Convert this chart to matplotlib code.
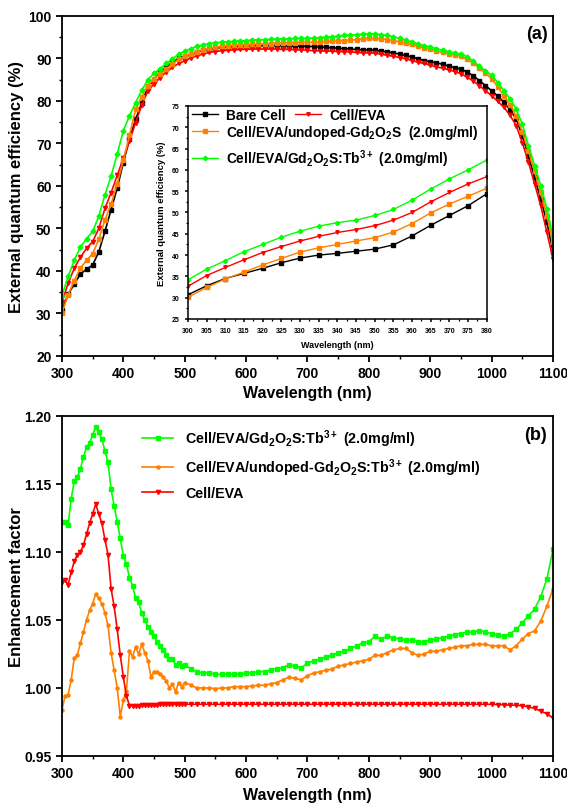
import matplotlib
matplotlib.use("Agg")
import matplotlib.pyplot as plt
from matplotlib.ticker import MultipleLocator, FormatStrFormatter
import numpy as np

plt.rcParams['font.family'] = ['Liberation Sans', 'DejaVu Sans']
plt.rcParams['font.weight'] = 'bold'
plt.rcParams['mathtext.fontset'] = 'custom'
plt.rcParams['mathtext.rm'] = 'Liberation Sans:bold'
plt.rcParams['mathtext.bf'] = 'Liberation Sans:bold'
plt.rcParams['mathtext.default'] = 'bf'

# ---- panel (a): EQE, 300-1100 nm every 10 nm ----
wl_a = np.arange(300, 1101, 10)
eqe_bare = [30.7, 34.5, 36.9, 39.3, 40.4, 41.4, 44.5, 49.3, 54.4, 59.5,
            65.5, 71.0, 75.7, 79.5, 83.2, 85.0, 86.7, 88.0, 89.1, 90.0,
            90.4, 91.0, 91.5, 91.9, 92.2, 92.4, 92.6, 92.7, 92.8, 92.9,
            92.9, 93.0, 93.0, 93.0, 93.0, 93.0, 93.0, 92.9, 92.9, 92.9,
            92.8, 92.8, 92.7, 92.6, 92.5, 92.4, 92.3, 92.2, 92.1, 92.0,
            92.0, 91.9, 91.7, 91.5, 91.3, 91.0, 90.7, 90.3, 89.9, 89.5,
            89.2, 89.0, 88.6, 88.2, 87.8, 87.5, 86.8, 85.9, 84.8, 83.6,
            82.4, 81.1, 79.7, 77.9, 75.8, 71.8, 67.1, 62.0, 56.9, 51.5,
            44.5]
eqe_eva = [32.7, 37.1, 40.6, 43.2, 45.3, 46.9, 50.0, 54.7, 58.4, 62.5,
           66.5, 70.5, 74.9, 79.0, 82.4, 84.0, 85.5, 86.8, 87.9, 88.8,
           89.4, 90.1, 90.6, 91.0, 91.4, 91.6, 91.8, 91.9, 92.0, 92.1,
           92.1, 92.2, 92.2, 92.2, 92.2, 92.2, 92.1, 92.1, 92.0, 92.0,
           91.9, 91.8, 91.8, 91.7, 91.7, 91.6, 91.6, 91.5, 91.4, 91.3,
           91.3, 91.2, 91.0, 90.7, 90.5, 90.2, 89.9, 89.5, 89.1, 88.8,
           88.4, 88.0, 87.7, 87.3, 86.9, 86.4, 85.6, 84.7, 83.6, 82.4,
           81.2, 79.9, 78.5, 76.6, 74.2, 70.2, 65.6, 60.5, 55.4, 49.1,
           42.8]
eqe_undoped = [30.1, 34.4, 37.7, 40.7, 42.5, 44.1, 47.4, 52.0, 55.7, 60.5,
               66.0, 72.0, 78.0, 81.0, 83.6, 85.2, 86.3, 87.5, 88.7, 89.8,
               90.5, 91.1, 91.6, 92.0, 92.4, 92.6, 92.8, 93.0, 93.1, 93.2,
               93.2, 93.3, 93.4, 93.5, 93.5, 93.6, 93.6, 93.7, 93.7, 93.8,
               93.8, 93.8, 93.9, 94.0, 94.0, 94.1, 94.2, 94.3, 94.4, 94.6,
               94.7, 94.7, 94.6, 94.4, 94.2, 93.9, 93.6, 93.3, 92.9, 92.5,
               92.1, 91.7, 91.4, 91.1, 90.8, 90.5, 89.8, 88.9, 87.8, 86.6,
               85.2, 83.3, 81.2, 79.0, 76.5, 72.8, 68.3, 63.4, 58.5, 53.0,
               46.8]
eqe_tb = [34.2, 38.7, 42.5, 45.6, 47.6, 49.3, 52.9, 57.9, 62.3, 67.5,
          73.0, 76.5, 79.6, 82.5, 85.0, 86.5, 87.6, 88.8, 89.9, 91.0,
          91.7, 92.3, 92.8, 93.2, 93.5, 93.7, 93.8, 93.9, 94.0, 94.1,
          94.2, 94.3, 94.4, 94.4, 94.5, 94.6, 94.6, 94.6, 94.7, 94.7,
          94.7, 94.8, 94.9, 95.0, 95.1, 95.2, 95.4, 95.5, 95.6, 95.7,
          95.8, 95.8, 95.6, 95.4, 95.1, 94.7, 94.3, 93.9, 93.4, 93.0,
          92.7, 92.3, 91.9, 91.6, 91.3, 91.0, 90.4, 89.4, 88.2, 87.1,
          86.0, 84.3, 82.4, 80.5, 78.1, 74.5, 69.5, 64.8, 60.1, 54.6,
          48.0]

# ---- inset: 300-380 nm every 5 nm ----
wl_in = np.arange(300, 381, 5)
in_bare = [30.7, 32.8, 34.5, 35.7, 36.9, 38.2, 39.3, 40.0, 40.4, 40.9,
           41.4, 42.4, 44.5, 47.0, 49.3, 51.6, 54.4]
in_eva = [32.7, 35.2, 37.1, 38.9, 40.6, 42.0, 43.3, 44.4, 45.3, 46.0,
          46.9, 48.2, 50.0, 52.5, 54.7, 56.7, 58.4]
in_undoped = [30.1, 32.4, 34.4, 36.0, 37.7, 39.2, 40.7, 41.7, 42.5, 43.3,
              44.1, 45.4, 47.4, 49.9, 52.0, 53.8, 55.7]
in_tb = [34.2, 36.7, 38.7, 40.8, 42.5, 44.2, 45.6, 46.8, 47.6, 48.2,
         49.3, 50.7, 52.9, 55.5, 57.9, 60.0, 62.3]

# ---- panel (b): enhancement factor, 5 nm to 495, then 10 nm ----
wl_b = np.concatenate([np.arange(300, 500, 5), np.arange(500, 1101, 10)])
ef_tb = [1.122, 1.122, 1.120, 1.139, 1.152, 1.155, 1.161, 1.170, 1.177, 1.180,
         1.186, 1.192, 1.188, 1.183, 1.174, 1.166, 1.146, 1.134, 1.122, 1.110,
         1.097, 1.091, 1.081, 1.075, 1.066, 1.063, 1.055, 1.050, 1.045, 1.041,
         1.038, 1.034, 1.031, 1.028, 1.024, 1.021, 1.021, 1.017, 1.018, 1.016,
         1.017, 1.014, 1.012, 1.011, 1.011, 1.010, 1.010, 1.010, 1.010, 1.010,
         1.011, 1.011, 1.012, 1.012, 1.013, 1.014, 1.015, 1.017, 1.016, 1.015,
         1.018, 1.020, 1.021, 1.023, 1.024, 1.026, 1.027, 1.029, 1.031, 1.033,
         1.034, 1.038, 1.036, 1.038, 1.037, 1.036, 1.035, 1.035, 1.034, 1.034,
         1.035, 1.036, 1.037, 1.038, 1.039, 1.040, 1.041, 1.041, 1.042, 1.041,
         1.040, 1.039, 1.038, 1.040, 1.043, 1.048, 1.053, 1.058, 1.067, 1.080,
         1.102]
ef_undoped = [0.984, 0.994, 0.995, 1.006, 1.022, 1.024, 1.033, 1.041, 1.050, 1.057,
              1.062, 1.069, 1.066, 1.062, 1.055, 1.046, 1.026, 1.013, 1.000, 0.979,
              0.991, 0.998, 1.027, 1.023, 1.030, 1.025, 1.032, 1.026, 1.020, 1.008,
              1.012, 1.012, 1.010, 1.008, 1.005, 1.000, 1.003, 0.997, 1.004, 1.001,
              1.004, 1.002, 1.000, 1.000, 1.000, 0.9995, 1.000, 1.000, 1.001, 1.001,
              1.001, 1.0015, 1.002, 1.002, 1.003, 1.004, 1.006, 1.008, 1.007, 1.006,
              1.009, 1.011, 1.012, 1.013, 1.014, 1.016, 1.017, 1.018, 1.019, 1.020,
              1.021, 1.024, 1.024, 1.026, 1.028, 1.029, 1.029, 1.026, 1.024, 1.025,
              1.027, 1.027, 1.028, 1.029, 1.030, 1.031, 1.031, 1.032, 1.032, 1.032,
              1.031, 1.031, 1.031, 1.028, 1.031, 1.036, 1.040, 1.042, 1.049, 1.060,
              1.073]
ef_eva = [1.078, 1.079, 1.076, 1.085, 1.093, 1.098, 1.100, 1.105, 1.113, 1.121,
          1.128, 1.135, 1.128, 1.121, 1.109, 1.098, 1.073, 1.060, 1.043, 1.024,
          1.008, 0.994, 0.987, 0.987, 0.987, 0.987, 0.9875, 0.9875, 0.9875, 0.9878,
          0.9878, 0.9878, 0.988, 0.988, 0.988, 0.988, 0.988, 0.988, 0.988, 0.988,
          0.988, 0.988, 0.988, 0.988, 0.988, 0.988, 0.988, 0.988, 0.988, 0.988,
          0.988, 0.988, 0.988, 0.988, 0.988, 0.988, 0.988, 0.988, 0.988, 0.988,
          0.988, 0.988, 0.988, 0.988, 0.988, 0.988, 0.988, 0.988, 0.988, 0.988,
          0.988, 0.988, 0.988, 0.988, 0.988, 0.988, 0.988, 0.988, 0.988, 0.988,
          0.988, 0.988, 0.988, 0.988, 0.988, 0.988, 0.988, 0.988, 0.988, 0.988,
          0.988, 0.9878, 0.9876, 0.9874, 0.9872, 0.987, 0.986, 0.985, 0.983, 0.981,
          0.978]

BLACK, RED, ORANGE, GREEN = '#000000', '#FF0000', '#FF8000', '#00FF00'
lab_bare = 'Bare Cell'
lab_eva = 'Cell/EVA'
lab_undoped_a = 'Cell/EVA/undoped-Gd$_2$O$_2$S  (2.0mg/ml)'
lab_tb = 'Cell/EVA/Gd$_2$O$_2$S:Tb$^{3+}$ (2.0mg/ml)'
lab_undoped_b = 'Cell/EVA/undoped-Gd$_2$O$_2$S:Tb$^{3+}$ (2.0mg/ml)'


def style_axes(ax, size, lw=1.3, length=4):
    for s in ax.spines.values():
        s.set_linewidth(lw)
    ax.tick_params(which='major', direction='out', length=length, width=lw,
                   labelsize=size, top=False, right=False)
    ax.tick_params(which='minor', direction='out', length=length * 0.6, width=lw * 0.8,
                   top=False, right=False)
    for t in ax.get_xticklabels() + ax.get_yticklabels():
        t.set_fontweight('bold')


fig = plt.figure(figsize=(5.67, 8.04), dpi=100)

# ---------------- (a) ----------------
ax1 = fig.add_axes([0.1093, 0.556, 0.866, 0.423])
ax1.plot(wl_a, eqe_bare, color=BLACK, marker='s', ms=2.5, lw=1.2)
ax1.plot(wl_a, eqe_eva, color=RED, marker='v', ms=3, lw=1.2)
ax1.plot(wl_a, eqe_undoped, color=ORANGE, marker='s', ms=2.5, lw=1.2)
ax1.plot(wl_a, eqe_tb, color=GREEN, marker='D', ms=2.5, lw=1.2)
ax1.set_xlim(300, 1100)
ax1.set_ylim(20, 100)
ax1.xaxis.set_major_locator(MultipleLocator(100))
ax1.xaxis.set_minor_locator(MultipleLocator(50))
ax1.yaxis.set_major_locator(MultipleLocator(10))
ax1.yaxis.set_minor_locator(MultipleLocator(5))
style_axes(ax1, 10)
ax1.set_xlabel('Wavelength (nm)', fontsize=11.5, fontweight='bold')
ax1.set_ylabel('External quantum efficiency (%)', fontsize=12, fontweight='bold')
ax1.xaxis.set_label_coords(0.5, -0.085)
ax1.yaxis.set_label_coords(-0.078, 0.5)
ax1.text(0.967, 0.947, '(a)', transform=ax1.transAxes, fontsize=13,
         fontweight='bold', ha='center', va='center')

# inset
ax_in = fig.add_axes([0.3316, 0.602, 0.527, 0.265])
h_bare, = ax_in.plot(wl_in, in_bare, color=BLACK, marker='s', ms=2.2, lw=1.0)
h_eva, = ax_in.plot(wl_in, in_eva, color=RED, marker='v', ms=2.5, lw=1.0)
h_und, = ax_in.plot(wl_in, in_undoped, color=ORANGE, marker='s', ms=2.2, lw=1.0)
h_tb, = ax_in.plot(wl_in, in_tb, color=GREEN, marker='D', ms=2.2, lw=1.0)
ax_in.set_xlim(300, 380)
ax_in.set_ylim(25, 75)
ax_in.xaxis.set_major_locator(MultipleLocator(5))
ax_in.xaxis.set_minor_locator(MultipleLocator(2.5))
ax_in.yaxis.set_major_locator(MultipleLocator(5))
ax_in.yaxis.set_minor_locator(MultipleLocator(2.5))
style_axes(ax_in, 5, lw=1.1, length=2.5)
ax_in.set_xlabel('Wavelength (nm)', fontsize=6.5, fontweight='bold', labelpad=4)
ax_in.set_ylabel('External quantum efficiency (%)', fontsize=6.8, fontweight='bold')

leg_kw = dict(frameon=False, loc='center left', handlelength=1.9,
              handletextpad=0.6, borderpad=0, borderaxespad=0, numpoints=1,
              prop={'weight': 'bold', 'size': 9.9})
leg1 = ax_in.legend([h_bare, h_eva], [lab_bare, lab_eva], ncol=2,
                    columnspacing=0.7, bbox_to_anchor=(0.012, 0.958), **leg_kw)
ax_in.add_artist(leg1)
leg2 = ax_in.legend([h_und], [lab_undoped_a], bbox_to_anchor=(0.012, 0.878), **leg_kw)
ax_in.add_artist(leg2)
ax_in.legend([h_tb], [lab_tb], bbox_to_anchor=(0.012, 0.756), **leg_kw)

# ---------------- (b) ----------------
ax2 = fig.add_axes([0.1093, 0.0585, 0.866, 0.423])
ax2.plot(wl_b, ef_tb, color=GREEN, marker='s', ms=2.5, lw=1.2, label=lab_tb)
ax2.plot(wl_b, ef_undoped, color=ORANGE, marker='o', ms=2.2, lw=1.2, label=lab_undoped_b)
ax2.plot(wl_b, ef_eva, color=RED, marker='v', ms=3, lw=1.2, label=lab_eva)
ax2.set_xlim(300, 1100)
ax2.set_ylim(0.95, 1.20)
ax2.xaxis.set_major_locator(MultipleLocator(100))
ax2.xaxis.set_minor_locator(MultipleLocator(50))
ax2.yaxis.set_major_locator(MultipleLocator(0.05))
ax2.yaxis.set_major_formatter(FormatStrFormatter('%.2f'))
style_axes(ax2, 10)
ax2.set_xlabel('Wavelength (nm)', fontsize=11.5, fontweight='bold')
ax2.set_ylabel('Enhancement factor', fontsize=12, fontweight='bold')
ax2.xaxis.set_label_coords(0.5, -0.09)
ax2.yaxis.set_label_coords(-0.078, 0.5)
ax2.text(0.965, 0.944, '(b)', transform=ax2.transAxes, fontsize=13,
         fontweight='bold', ha='center', va='center')
ax2.legend(frameon=False, loc='center left', bbox_to_anchor=(0.163, 0.859),
           handlelength=2.2, handletextpad=0.8, labelspacing=0.55,
           borderpad=0, borderaxespad=0, numpoints=1,
           prop={'weight': 'bold', 'size': 10.3})

fig.savefig('out.png', dpi=100)
